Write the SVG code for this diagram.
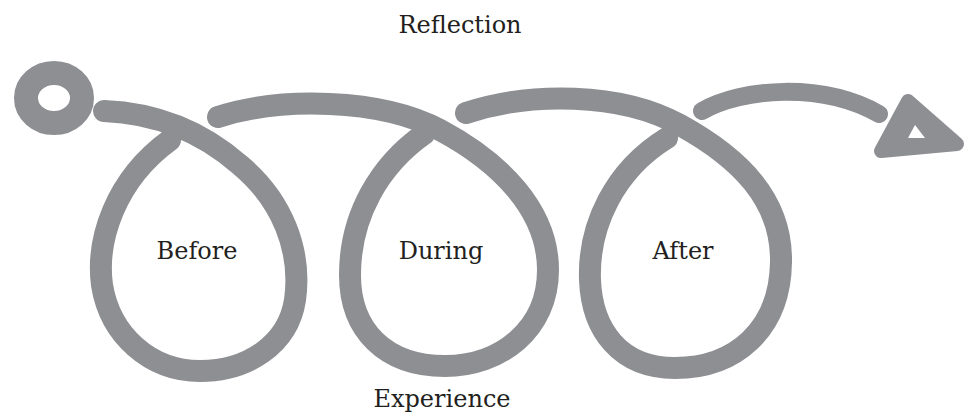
<svg xmlns="http://www.w3.org/2000/svg" width="974" height="416" viewBox="0 0 974 416">
  <style>
    .stroke { fill: none; stroke: #8e8f93; stroke-width: 22; stroke-linecap: round; stroke-linejoin: round; }
    .thin { stroke-width: 18; }
    .label { font-family: "DejaVu Serif", "Liberation Serif", serif; font-size: 24px; fill: #231f20; text-anchor: middle; }
  </style>
  <rect width="974" height="416" fill="#ffffff"/>
  <g id="start">
    <ellipse cx="54" cy="98" rx="28" ry="25" fill="none" stroke="#8e8f93" stroke-width="24"/>
  </g>
  <g id="connectors">
    <path class="stroke" d="M 104 111 C 155 113, 200 130, 240 165 C 282 200, 302 250, 295 300 C 288 345, 247 371, 200 371 C 150 371, 110 335, 102 285 C 96 240, 115 180, 170 140"/>
    <path class="stroke" d="M 218 117 C 280 97, 380 98, 440 130 C 500 162, 548 210, 548 270 C 548 330, 500 366, 445 366 C 385 366, 350 330, 350 275 C 350 215, 380 165, 424 134"/>
    <path class="stroke" d="M 466 113 C 530 92, 620 92, 680 125 C 740 158, 782 200, 781 262 C 780 330, 735 368, 675 368 C 620 368, 592 330, 590 280 C 588 225, 615 170, 667 138"/>
    <path class="stroke thin" d="M 702 111 C 742 88, 822 82, 879 114"/>
  </g>
  <g id="end">
    <polygon points="908,101 957,144 881,151" fill="#8e8f93" stroke="#8e8f93" stroke-width="14" stroke-linejoin="round"/>
    <polygon points="915,125 908,138 925,138" fill="#ffffff"/>
  </g>
  <g id="labels">
    <text class="label" x="460" y="33">Reflection</text>
    <text class="label" x="197" y="259">Before</text>
    <text class="label" x="441" y="259">During</text>
    <text class="label" x="683" y="259">After</text>
    <text class="label" x="442" y="407">Experience</text>
  </g>
</svg>
